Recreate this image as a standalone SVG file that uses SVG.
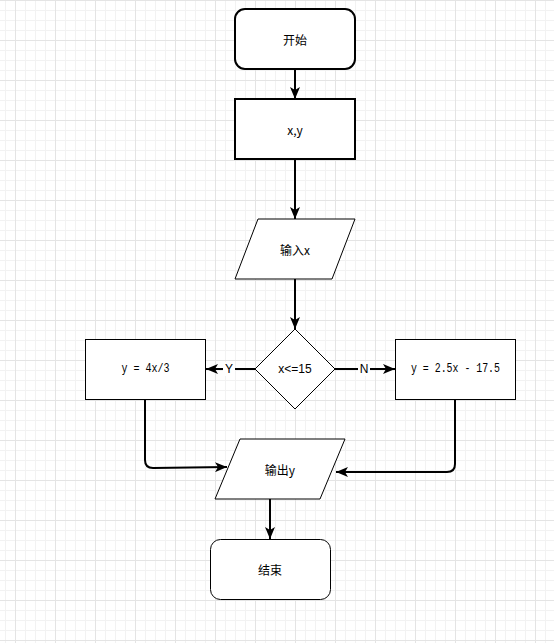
<svg xmlns="http://www.w3.org/2000/svg" width="554" height="643" viewBox="0 0 554 643">
<style>
.thick{fill:#fff;stroke:#000;stroke-width:2}
.thin{fill:#fff;stroke:#000;stroke-width:1}
.edge{fill:none;stroke:#000;stroke-width:2}
.cn{font-family:"Noto Sans CJK SC","Liberation Sans",sans-serif;font-size:12px;fill:#000;text-anchor:middle;dominant-baseline:central}
.mono{font-family:"Liberation Mono",monospace;font-size:12px;fill:#000;text-anchor:middle;dominant-baseline:central}
.lbl{font-family:"Liberation Sans",sans-serif;font-size:12px;fill:#000;text-anchor:middle;dominant-baseline:central}
</style>
<defs>
<pattern id="grid" patternUnits="userSpaceOnUse" x="15" y="0" width="40" height="40">
<path d="M10.5 0V40M20.5 0V40M30.5 0V40M0 10.5H40M0 20.5H40M0 30.5H40" stroke="#f2f2f2" stroke-width="1" fill="none"/>
<path d="M0.5 0V40M0 0.5H40" stroke="#e4e4e4" stroke-width="1" fill="none"/>
</pattern>
<marker id="arr" markerUnits="userSpaceOnUse" viewBox="0 0 12 10" refX="12" refY="5" markerWidth="12" markerHeight="10" orient="auto">
<path d="M0,0 L12,5 L0,10 L3,5 Z" fill="#000"/>
</marker>
</defs>
<rect width="554" height="643" fill="#fff"/>
<rect width="554" height="643" fill="url(#grid)"/>

<g id="connectors">
<path class="edge" d="M295 69V99" marker-end="url(#arr)"/>
<path class="edge" d="M295 159V219" marker-end="url(#arr)"/>
<path class="edge" d="M295 279V329" marker-end="url(#arr)"/>
<path class="edge" d="M255 369H206" marker-end="url(#arr)"/>
<path class="edge" d="M335 369H395" marker-end="url(#arr)"/>
<path class="edge" d="M145 399V460Q145 468 153 468L227 467" marker-end="url(#arr)"/>
<path class="edge" d="M455 399V464Q455 472 447 472H336" marker-end="url(#arr)"/>
<path class="edge" d="M270 499V539" marker-end="url(#arr)"/>
<rect x="223" y="362" width="12" height="14" fill="#fff"/>
<text class="lbl" x="229" y="369">Y</text>
<rect x="358" y="362" width="12" height="14" fill="#fff"/>
<text class="lbl" x="364" y="369">N</text>
</g>

<g id="start">
<rect class="thick" x="235" y="9" width="120" height="60" rx="10"/>
<text class="cn" x="295" y="39">开始</text>
</g>
<g id="xy">
<rect class="thick" x="235" y="99" width="120" height="60"/>
<text class="cn" x="295" y="129">x,y</text>
</g>
<g id="input">
<path class="thin" d="M258 219H355L332 279H235Z"/>
<text class="cn" x="295" y="249">输入x</text>
</g>
<g id="decision">
<path class="thin" d="M295 329L335 369L295 409L255 369Z"/>
<text class="lbl" x="295" y="369">x&lt;=15</text>
</g>
<g id="left">
<rect class="thin" x="85.5" y="339.5" width="120" height="60"/>
<text class="mono" x="145.5" y="369" textLength="48" lengthAdjust="spacingAndGlyphs">y = 4x/3</text>
</g>
<g id="right">
<rect class="thin" x="395.5" y="339.5" width="120" height="60"/>
<text class="mono" x="455.5" y="369" textLength="89" lengthAdjust="spacingAndGlyphs">y = 2.5x - 17.5</text>
</g>
<g id="output">
<path class="thin" d="M240 439H345L320 499H215Z"/>
<text class="cn" x="280" y="469">输出y</text>
</g>
<g id="end">
<rect class="thin" x="210.5" y="539.5" width="120" height="60" rx="10"/>
<text class="cn" x="270" y="569">结束</text>
</g>
</svg>
